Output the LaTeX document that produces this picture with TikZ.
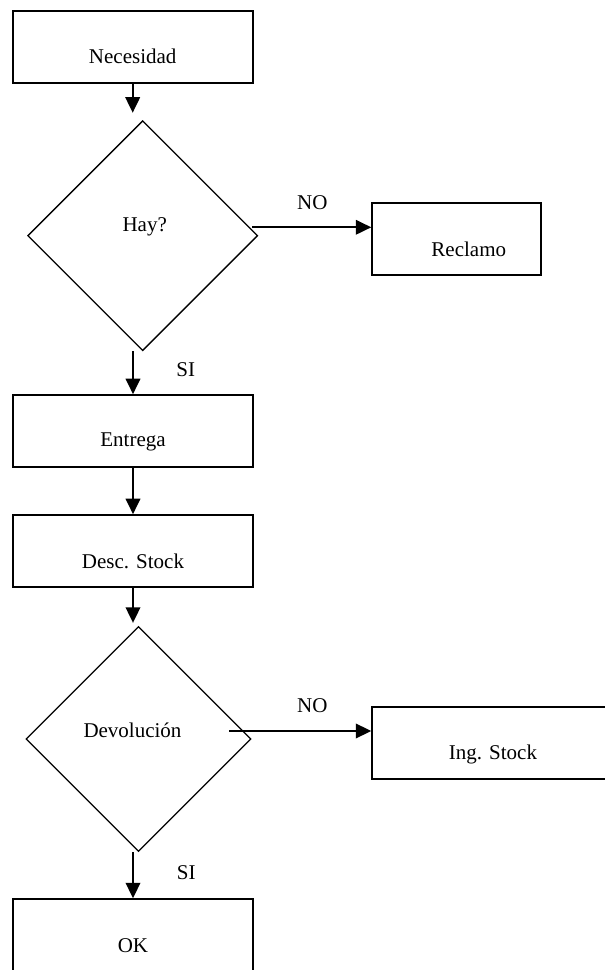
\documentclass[tikz,border=0pt]{standalone}
\usepackage{fontspec}
\setmainfont{Liberation Serif}
\usetikzlibrary{shapes.geometric,arrows.meta}
\begin{document}
\begin{tikzpicture}[x=1pt,y=1pt,every node/.style={inner sep=0pt,font=\fontsize{21}{25}\selectfont}]
\tikzstyle{box}=[draw,line width=2pt,minimum width=240pt,minimum height=72pt]
\tikzstyle{decision}=[draw,diamond,line width=1.3pt,minimum width=230pt,minimum height=230pt]
\tikzstyle{arrow}=[draw,line width=2pt,-{Triangle[length=15.5pt,width=14.5pt]}]
\useasboundingbox (0,0) rectangle (605,970);
\clip (0,0) rectangle (605,970);

\node[box,label={[yshift=-10pt]center:Necesidad}](necesidad) at (132.7,923.3) {};
\node[decision,below of=necesidad,node distance=189pt,xshift=10pt,label={[xshift=2pt,yshift=9pt]center:Hay?}](hay){};
\node[box,right of=hay,node distance=314.1pt,yshift=-3.1pt,minimum width=169pt,label={[xshift=12pt,yshift=-11pt]center:Reclamo}](reclamo){};

\node[box,below of=hay,node distance=195.5pt,xshift=-9.7pt,label={[yshift=-11pt]center:Entrega}](entrega){};
\node[box,below of=entrega,node distance=120pt,label={[yshift=-10.5pt]center:Desc. Stock}](desc){};

\node[decision,below of=desc,node distance=187.8pt,xshift=5.5pt,minimum width=225pt,minimum height=225pt,label={[xshift=-6pt,yshift=9pt]center:Devolución}](devolucion){};
\node[box,right of=devolucion,node distance=354.5pt,yshift=-4.3pt,minimum width=241.4pt,label={[yshift=-11pt]center:Ing. Stock}](ingstock){};

\node[box,below of=devolucion,node distance=196.3pt,xshift=-5.5pt,label={[yshift=-10.7pt]center:OK}](ok){};

\coordinate (no1) at ([xshift=-6.2pt,yshift=8.4pt]hay.east);
\coordinate (no2) at ([xshift=-22.6pt,yshift=8pt]devolucion.east);

\draw[arrow,shorten >=7.3pt] (necesidad.south) -- (necesidad.south |- hay.north);
\draw[arrow] (no1) -- (no1 -| reclamo.west);
\draw[arrow] (entrega.north |- hay.south) -- (entrega.north);
\draw[arrow] (entrega.south) -- (desc.north);
\draw[arrow,shorten >=3pt] (desc.south) -- (desc.south |- devolucion.north);
\draw[arrow] (no2) -- (no2 -| ingstock.west);
\draw[arrow] (ok.north |- devolucion.south) -- (ok.north);

\node(nolbl1) at ([xshift=60.2pt,yshift=25pt]no1) {NO};
\node(silbl1) at ([xshift=52.7pt,yshift=25pt]entrega.north) {SI};
\node(nolbl2) at ([xshift=83.3pt,yshift=25pt]no2) {NO};
\node(silbl2) at ([xshift=53.3pt,yshift=25.3pt]ok.north) {SI};
\end{tikzpicture}
\end{document}
